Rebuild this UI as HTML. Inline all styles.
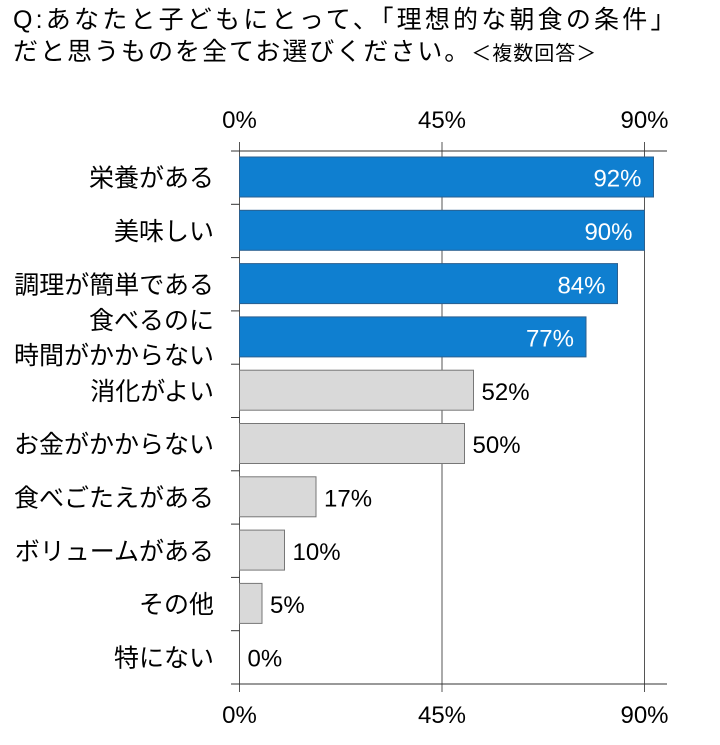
<!DOCTYPE html>
<html><head><meta charset="utf-8"><style>
body{margin:0;background:#fff;width:720px;height:745px;overflow:hidden;font-family:"Liberation Sans","Noto Sans CJK JP",sans-serif;}
.t{position:absolute;left:13px;font-size:25px;color:#000;white-space:nowrap;line-height:30px;}
</style></head><body>
<div class="t" style="top:5px;letter-spacing:3.2px">Q:あなたと子どもにとって、「理想的な朝食の条件」</div>
<div class="t" style="top:37px;letter-spacing:2px">だと思うものを全てお選びください。<span style="font-size:20px;letter-spacing:1px">＜複数回答＞</span></div>
<svg id="c" width="720" height="745" style="position:absolute;left:0;top:0"></svg>
<script>
const categories=[["栄養がある"],["美味しい"],["調理が簡単である"],["食べるのに","時間がかからない"],["消化がよい"],["お金がかからない"],["食べごたえがある"],["ボリュームがある"],["その他"],["特にない"]];
const values=[92,90,84,77,52,50,17,10,5,0];
const highlight=[true,true,true,true,false,false,false,false,false,false];
const ticks=[0,45,90];
const svg=document.getElementById('c');
const NS='http://www.w3.org/2000/svg';
const x0=239.5,yTop=151,yBot=684,rowH=(yBot-yTop)/categories.length;
const xs=v=>x0+v*4.5;
function mk(t,a,p){const e=document.createElementNS(NS,t);for(const k in a)e.setAttribute(k,a[k]);(p||svg).appendChild(e);return e;}
ticks.forEach(t=>{
 const gl=mk('line',{x1:xs(t),x2:xs(t),y1:142,y2:692,stroke:'#555','stroke-width':1});
 
 
 [120,715].forEach((y,i)=>{
  const tx=mk('text',{x:xs(t),y:y+8,'text-anchor':'middle','font-size':24,fill:'#000'});
  tx.textContent=t+'%';
  
  
 });
});
[yTop,yBot].forEach((y,i)=>{
 const l=mk('line',{x1:231,x2:667,y1:y,y2:y,stroke:'#333','stroke-width':1});
 
 
});
for(let i=1;i<categories.length;i++){
 const l=mk('line',{x1:231,x2:x0,y1:yTop+i*rowH,y2:yTop+i*rowH,stroke:'#333'});
 
 
}
categories.forEach((c,i)=>{
 const yT=yTop+i*rowH,v=values[i],hl=highlight[i];
 if(v>0){
  const r=mk('rect',{x:x0,y:yT+6,width:xs(v)-x0,height:40,fill:hl?'#0f7fd0':'#d9d9d9',stroke:hl?'#2a5f8f':'#777','stroke-width':1});
  
  
 }
 const vt=mk('text',{x:hl?xs(v)-12:xs(v)+8,y:yT+rowH/2+9,'text-anchor':hl?'end':'start','font-size':24,fill:hl?'#fff':'#000'});
 vt.textContent=v+'%';
 
 
 const lt=mk('text',{x:214,'text-anchor':'end','font-size':25,fill:'#000'});
 
 
 c.forEach((s,j)=>{const ts=mk('tspan',{x:214,y:yT+rowH/2+9+(j-(c.length-1)/2)*35},lt);ts.textContent=s;});
});
</script>
</body></html>
